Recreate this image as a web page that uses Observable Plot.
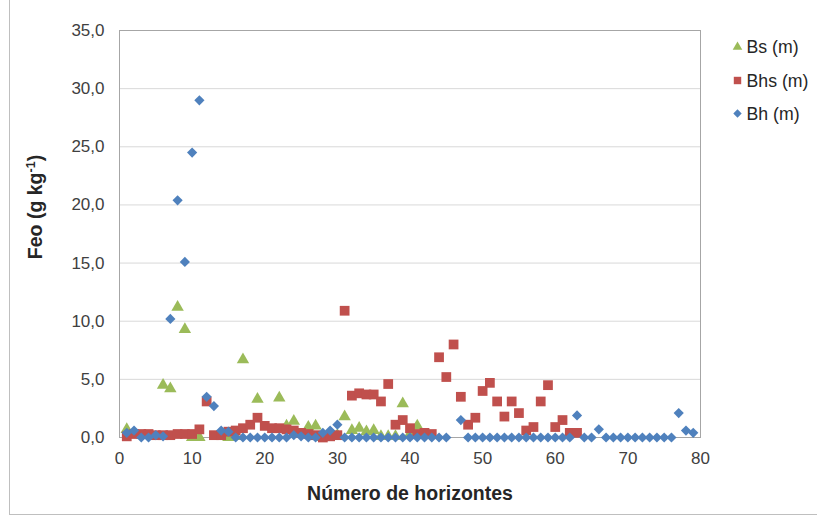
<!DOCTYPE html>
<html><head><meta charset="utf-8">
<script src="https://cdn.jsdelivr.net/npm/d3@7"></script>
<script src="https://cdn.jsdelivr.net/npm/@observablehq/plot@0.6"></script>
<style>
body{margin:0;background:#fff;}
#wrap{position:relative;width:817px;height:521px;overflow:hidden;font-family:"Liberation Sans",Arial,sans-serif;}
#border{position:absolute;left:9px;top:-2px;width:830px;height:517px;border:1px solid #bfbfbf;box-sizing:border-box;pointer-events:none;}
</style></head>
<body><div id="wrap"><div id="border"></div></div>
<script>
// Series: Bs (m)
const bsX = [1,6,7,8,9,10,11,15,16,17,19,22,23,24,26,27,28,29,30,31,32,33,34,35,36,37,38,39,40,41];
const bsY = [0.7,4.5,4.2,11.2,9.3,0,0,0,0.1,6.7,3.3,3.4,1.0,1.4,0.9,1.0,0,0.3,0.2,1.8,0.6,0.8,0.5,0.6,0.1,0.1,0.1,2.9,0.3,1.0];
// Series: Bhs (m)
const bhsX = [1,2,3,4,5,6,7,8,9,10,11,12,13,14,15,16,17,18,19,20,21,22,23,24,25,26,27,28,29,30,31,32,33,34,35,36,37,38,39,40,41,42,43,44,45,46,47,48,49,50,51,52,53,54,55,56,57,58,59,60,61,62,63];
const bhsY = [0.1,0.3,0.3,0.3,0.2,0.2,0.2,0.3,0.3,0.3,0.7,3.1,0.2,0.2,0.5,0.6,0.8,1.1,1.7,1.0,0.8,0.8,0.7,0.6,0.4,0.3,0.2,0,0.1,0.2,10.9,3.6,3.8,3.7,3.7,3.1,4.6,1.1,1.5,0.8,0.3,0.4,0.3,6.9,5.2,8.0,3.5,1.1,1.7,4.0,4.7,3.1,1.8,3.1,2.1,0.6,0.9,3.1,4.5,0.9,1.5,0.4,0.4];
// Series: Bh (m)
const bhX = [1,2,3,4,5,6,7,8,9,10,11,12,13,14,15,16,17,18,19,20,21,22,23,24,25,26,27,28,29,30,31,32,33,34,35,36,37,38,39,40,41,42,43,44,45,47,48,49,50,51,52,53,54,55,56,57,58,59,60,61,62,63,64,65,66,67,68,69,70,71,72,73,74,75,76,77,78,79];
const bhY = [0.4,0.6,0,0,0.2,0.1,10.2,20.4,15.1,24.5,29.0,3.5,2.7,0.6,0.5,0,0,0,0,0,0,0,0,0.2,0.1,0,0,0.4,0.6,1.1,0,0,0,0,0,0,0,0,0,0,0,0,0,0,0,1.5,0,0,0,0,0,0,0,0,0,0,0,0,0,0,0,1.9,0,0,0.7,0,0,0,0,0,0,0,0,0,0,2.1,0.6,0.4];
const seriesNames = ["Bs (m)","Bhs (m)","Bh (m)"];
const seriesColors = ["#9BBB59","#C0504D","#4F81BD"];
const xTicks = [0,10,20,30,40,50,60,70,80];
const yTicks = [0,5,10,15,20,25,30,35];
const xTitle = "Número de horizontes";

const zip = (xs, ys) => xs.map((x, i) => ({x, y: ys[i]}));
const bs = zip(bsX, bsY), bhs = zip(bhsX, bhsY), bh = zip(bhX, bhY);
const fmt = d => d3.format(".1f")(d).replace(".", ",");
const font = "'Liberation Sans', Arial, sans-serif";

const chart = Plot.plot({
  width: 817, height: 521,
  marginLeft: 119, marginRight: 117, marginTop: 30, marginBottom: 84,
  style: {fontFamily: font, background: "transparent", overflow: "visible"},
  x: {domain: [0, 80]},
  y: {domain: [0, 35]},
  marks: [
    Plot.gridY(yTicks.filter(d => d > 0), {stroke: "#d9d9d9", strokeOpacity: 1, strokeWidth: 1}),
    Plot.frame({stroke: "#a6a6a6"}),
    Plot.axisX({ticks: xTicks, tickFormat: d => String(d), tickSize: 0, tickPadding: 14, fontSize: 17, fill: "#404040", label: null}),
    Plot.axisY({ticks: yTicks, tickFormat: fmt, tickSize: 0, tickPadding: 15, fontSize: 17, fill: "#404040", label: null}),
    Plot.dot(bs, {x: "x", y: "y", symbol: "triangle", r: 4.6, fill: seriesColors[0], stroke: "none"}),
    Plot.dot(bhs, {x: "x", y: "y", symbol: "square", r: 5.5, fill: seriesColors[1], stroke: "none"}),
    Plot.dot(bh, {x: "x", y: "y", symbol: "diamond2", r: 4.6, fill: seriesColors[2], stroke: "none"}),
    Plot.text([xTitle], {frameAnchor: "bottom", dy: 62, fontSize: 19.5, fontWeight: "bold", fill: "#262626", fontFamily: font})
  ]
});
document.getElementById("wrap").appendChild(chart);

const svg = d3.select(chart);
// y axis title with superscript
const yt = svg.append("text")
  .attr("transform", "translate(42,207) rotate(-90)")
  .attr("text-anchor", "middle")
  .attr("font-family", font).attr("font-size", 19.5).attr("font-weight", "bold").attr("fill", "#262626");
yt.append("tspan").text("Feo (g kg");
yt.append("tspan").attr("font-size", 12.5).attr("dy", -7).text("-1");
yt.append("tspan").attr("dy", 7).text(")");

// legend
const leg = svg.append("g").attr("font-family", font).attr("font-size", 17.7).attr("fill", "#262626").attr("text-anchor", "start");
const legY = [47, 80.5, 113.5];
const legSym = [d3.symbolTriangle, d3.symbolSquare, d3.symbolDiamond2];
const legSize = [40, 55, 45];
seriesNames.forEach((name, i) => {
  leg.append("path").attr("d", d3.symbol(legSym[i], legSize[i])()).attr("transform", `translate(737.5,${legY[i]})`).attr("fill", seriesColors[i]);
  leg.append("text").attr("x", 746.5).attr("y", legY[i]).attr("dy", "0.36em").attr("text-anchor", "start").text(name);
});
</script>
</body></html>
